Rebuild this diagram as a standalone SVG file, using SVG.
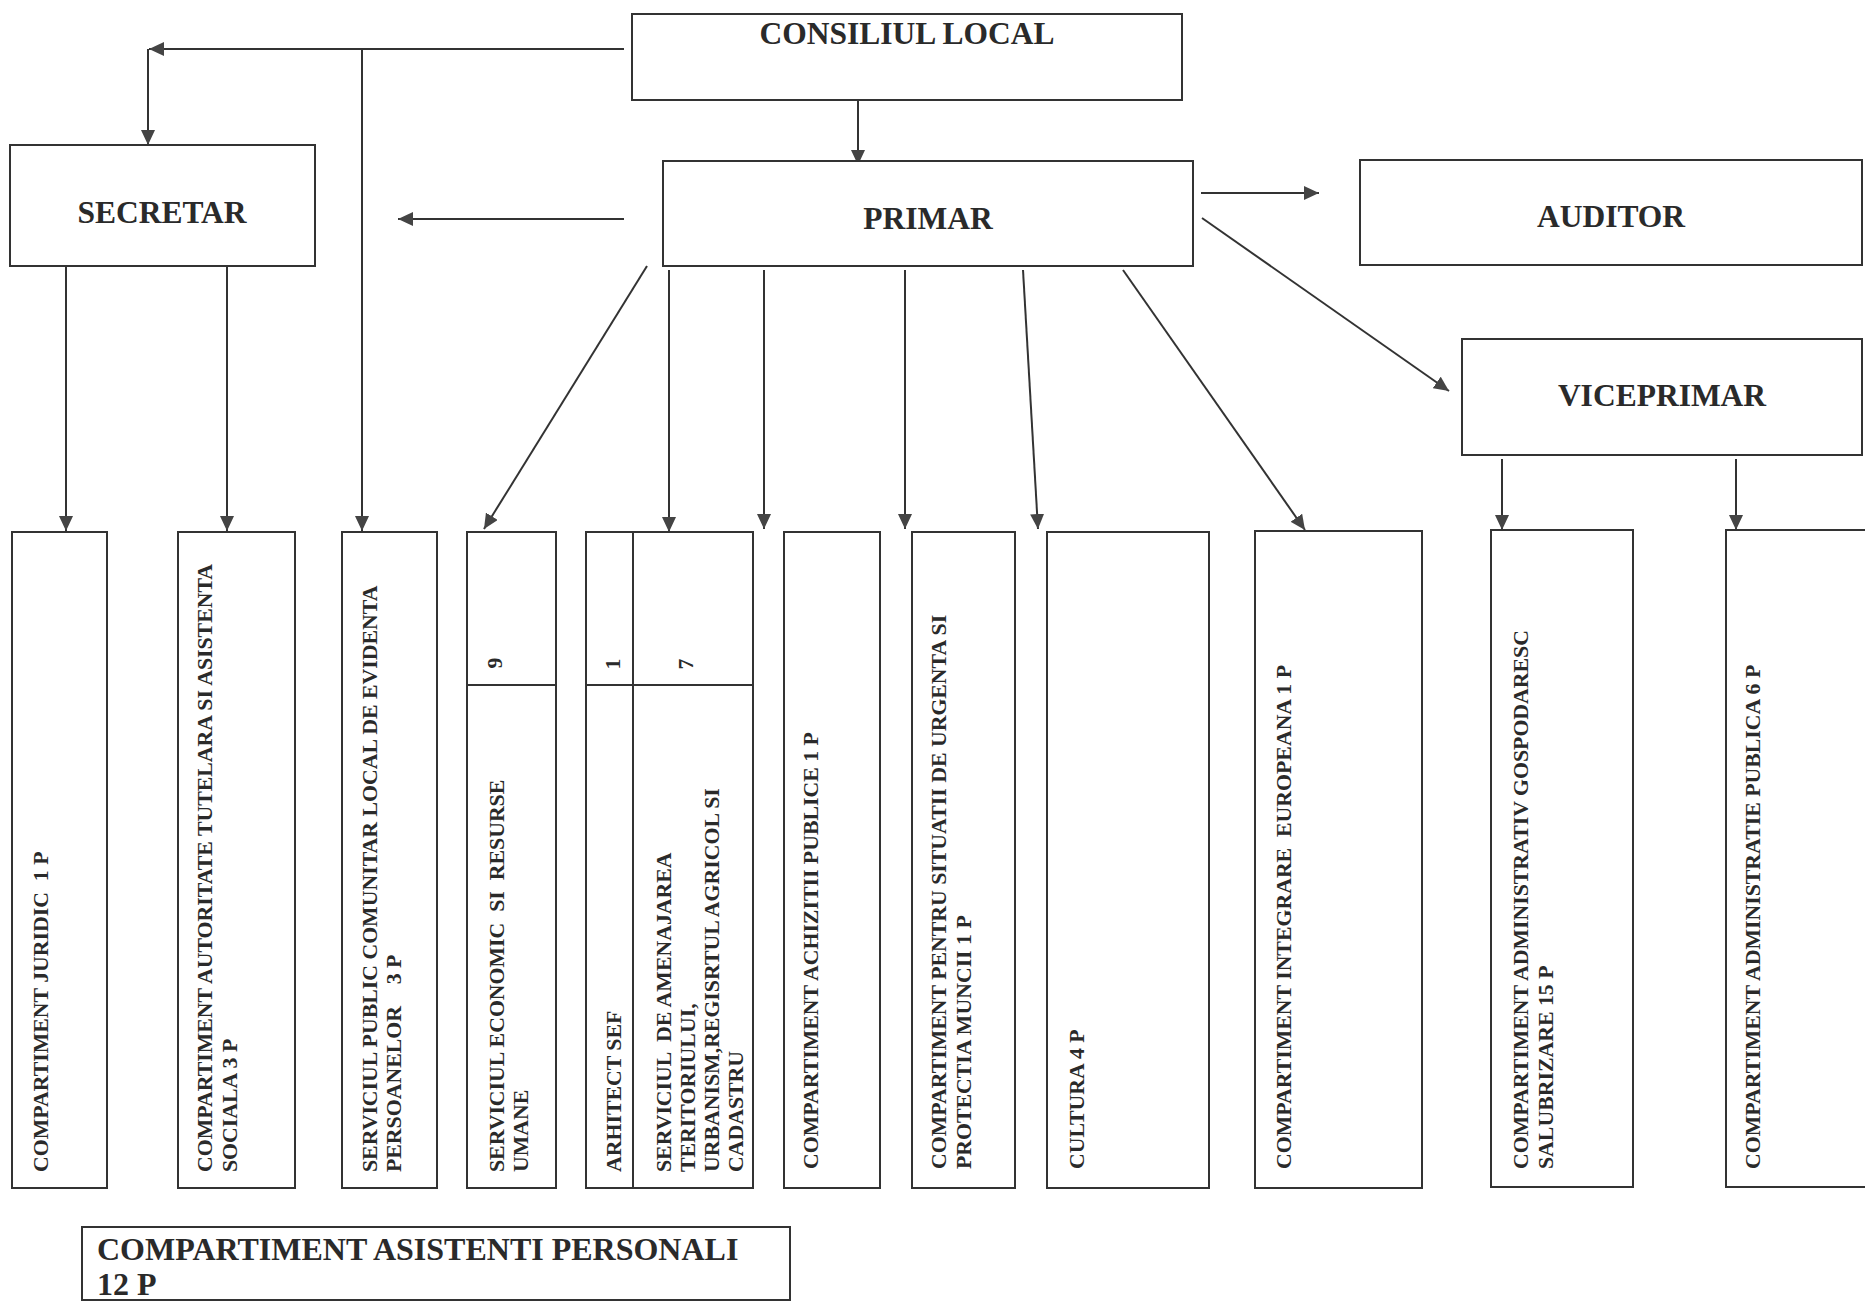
<svg xmlns="http://www.w3.org/2000/svg" width="1865" height="1303" viewBox="0 0 1865 1303">
<defs>
<style>
.box{fill:#fff;stroke:#333;stroke-width:2}
.div{stroke:#333;stroke-width:2;fill:none}
.con{stroke:#333;stroke-width:2;fill:none;marker-end:url(#ah)}
.h{font-family:"Liberation Serif","Times New Roman",serif;font-weight:bold;font-size:31.5px;fill:#2a2a2a;text-anchor:middle}
.ha{font-family:"Liberation Serif","Times New Roman",serif;font-weight:bold;font-size:32px;fill:#2a2a2a}
.v{font-family:"Liberation Serif","Times New Roman",serif;font-weight:bold;font-size:21.8px;fill:#2a2a2a;white-space:pre}
.n{font-family:"Liberation Serif","Times New Roman",serif;font-weight:bold;font-size:21.8px;fill:#2a2a2a;text-anchor:middle}
</style>
<marker id="ah" markerUnits="userSpaceOnUse" markerWidth="15" markerHeight="14" refX="15" refY="7" orient="auto">
<path d="M0,0 L15,7 L0,14 Z" fill="#444"/>
</marker>
</defs>
<rect width="1865" height="1303" fill="#fff"/>

<g id="connectors">
<line class="con" x1="624" y1="49" x2="149" y2="49"/>
<line class="con" x1="148" y1="49" x2="148" y2="145"/>
<line class="con" x1="362" y1="49" x2="362" y2="531"/>
<line class="con" x1="858" y1="97" x2="858" y2="165"/>
<line class="con" x1="624" y1="219" x2="398" y2="219"/>
<line class="con" x1="1201" y1="193" x2="1319" y2="193"/>
<line class="con" x1="1202" y1="218" x2="1449" y2="391"/>
<line class="con" x1="66" y1="266" x2="66" y2="531"/>
<line class="con" x1="227" y1="266" x2="227" y2="531"/>
<line class="con" x1="647" y1="266" x2="484" y2="529"/>
<line class="con" x1="669" y1="270" x2="669" y2="532"/>
<line class="con" x1="764" y1="270" x2="764" y2="529"/>
<line class="con" x1="905" y1="270" x2="905" y2="529"/>
<line class="con" x1="1023" y1="270" x2="1038" y2="529"/>
<line class="con" x1="1123" y1="270" x2="1305" y2="530"/>
<line class="con" x1="1502" y1="459" x2="1502" y2="530"/>
<line class="con" x1="1736" y1="459" x2="1736" y2="530"/>
</g>

<g id="consiliul-local">
<rect class="box" x="632" y="14" width="550" height="86"/>
<text class="h" x="907" y="44">CONSILIUL LOCAL</text>
</g>
<g id="secretar">
<rect class="box" x="10" y="145" width="305" height="121"/>
<text class="h" x="162" y="223">SECRETAR</text>
</g>
<g id="primar">
<rect class="box" x="663" y="161" width="530" height="105"/>
<text class="h" x="928" y="229">PRIMAR</text>
</g>
<g id="auditor">
<rect class="box" x="1360" y="160" width="502" height="105"/>
<text class="h" x="1611" y="227">AUDITOR</text>
</g>
<g id="viceprimar">
<rect class="box" x="1462" y="339" width="400" height="116"/>
<text class="h" x="1662" y="406">VICEPRIMAR</text>
</g>

<g id="comp-juridic">
<rect class="box" x="12" y="532" width="95" height="656"/>
<text class="v" transform="translate(48 1172) rotate(-90)">COMPARTIMENT JURIDIC  1 P</text>
</g>
<g id="comp-tutelara">
<rect class="box" x="178" y="532" width="117" height="656"/>
<text class="v" transform="translate(212 1172) rotate(-90)"><tspan x="0" y="0">COMPARTIMENT AUTORITATE TUTELARA SI ASISTENTA</tspan><tspan x="0" y="25">SOCIALA 3 P</tspan></text>
</g>
<g id="serv-evidenta">
<rect class="box" x="342" y="532" width="95" height="656"/>
<text class="v" transform="translate(377 1172) rotate(-90)"><tspan x="0" y="0">SERVICIUL PUBLIC COMUNITAR LOCAL DE EVIDENTA</tspan><tspan x="0" y="24">PERSOANELOR    3 P</tspan></text>
</g>
<g id="serv-economic">
<rect class="box" x="467" y="532" width="89" height="656"/>
<line class="div" x1="467" y1="685" x2="556" y2="685"/>
<text class="n" transform="translate(502 663) rotate(-90)">9</text>
<text class="v" transform="translate(504 1172) rotate(-90)"><tspan x="0" y="0">SERVICIUL ECONOMIC  SI  RESURSE</tspan><tspan x="0" y="24">UMANE</tspan></text>
</g>
<g id="serv-urbanism">
<rect class="box" x="586" y="532" width="167" height="656"/>
<line class="div" x1="633" y1="532" x2="633" y2="1188"/>
<line class="div" x1="586" y1="685" x2="753" y2="685"/>
<text class="n" transform="translate(620 664) rotate(-90)">1</text>
<text class="n" transform="translate(693 664) rotate(-90)">7</text>
<text class="v" transform="translate(621 1172) rotate(-90)">ARHITECT SEF</text>
<text class="v" transform="translate(671 1172) rotate(-90)"><tspan x="0" y="0">SERVICIUL  DE AMENAJAREA</tspan><tspan x="0" y="24">TERITORIULUI,</tspan><tspan x="0" y="48">URBANISM,REGISRTUL AGRICOL SI</tspan><tspan x="0" y="72">CADASTRU</tspan></text>
</g>
<g id="comp-achizitii">
<rect class="box" x="784" y="532" width="96" height="656"/>
<text class="v" transform="translate(818 1169) rotate(-90)">COMPARTIMENT ACHIZITII PUBLICE 1 P</text>
</g>
<g id="comp-urgenta">
<rect class="box" x="912" y="532" width="103" height="656"/>
<text class="v" transform="translate(946 1169) rotate(-90)"><tspan x="0" y="0">COMPARTIMENT PENTRU SITUATII DE URGENTA SI</tspan><tspan x="0" y="25">PROTECTIA MUNCII 1 P</tspan></text>
</g>
<g id="cultura">
<rect class="box" x="1047" y="532" width="162" height="656"/>
<text class="v" transform="translate(1084 1169) rotate(-90)">CULTURA 4 P</text>
</g>
<g id="comp-integrare">
<rect class="box" x="1255" y="531" width="167" height="657"/>
<text class="v" transform="translate(1291 1169) rotate(-90)">COMPARTIMENT INTEGRARE  EUROPEANA 1 P</text>
</g>
<g id="comp-gospodaresc">
<rect class="box" x="1491" y="530" width="142" height="657"/>
<text class="v" transform="translate(1528 1169) rotate(-90)"><tspan x="0" y="0">COMPARTIMENT ADMINISTRATIV GOSPODARESC</tspan><tspan x="0" y="25">SALUBRIZARE 15 P</tspan></text>
</g>
<g id="comp-adm-publica">
<rect class="box" x="1726" y="530" width="160" height="657"/>
<text class="v" transform="translate(1760 1169) rotate(-90)">COMPARTIMENT ADMINISTRATIE PUBLICA 6 P</text>
</g>

<g id="comp-asistenti">
<rect class="box" x="82" y="1227" width="708" height="73"/>
<text class="ha" x="97" y="1260">COMPARTIMENT ASISTENTI PERSONALI</text>
<text class="ha" x="97" y="1295">12 P</text>
</g>
</svg>
